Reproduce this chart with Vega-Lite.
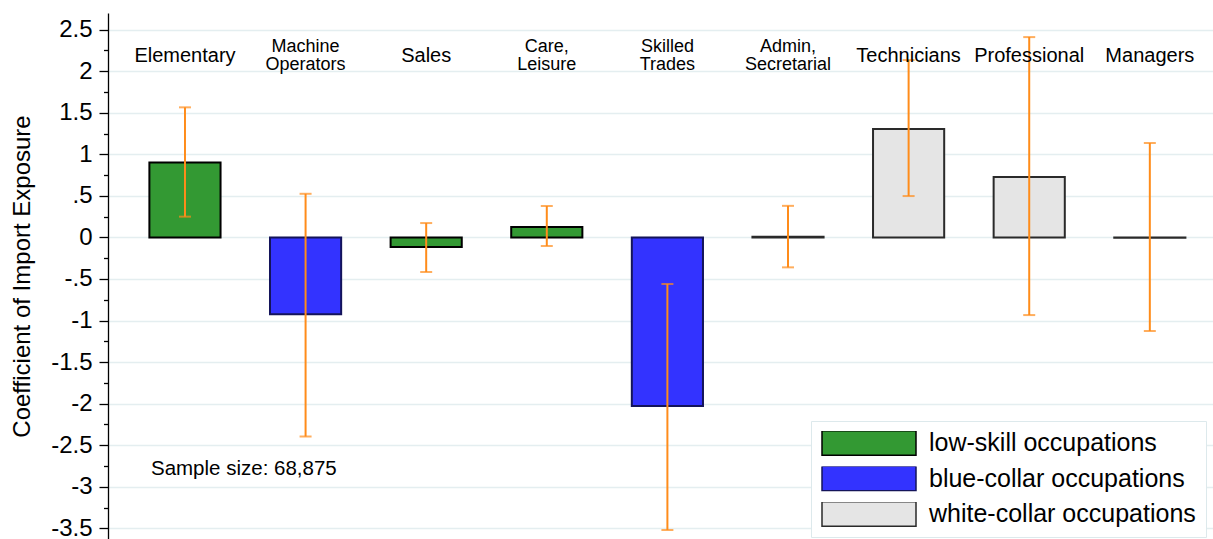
{
  "$schema": "https://vega.github.io/schema/vega-lite/v6.json",
  "autosize": {"type": "none"},
  "padding": {"left": 108, "top": 13, "right": 0, "bottom": 0},
  "width": 1105,
  "height": 526,
  "background": "white",
  "config": {"view": {"stroke": null}, "font": "Liberation Sans"},
  "data": {
    "values": [
      {"occ": "Elementary", "label": "Elementary", "group": "low-skill occupations", "coef": 0.90, "lo": 0.25, "hi": 1.565},
      {"occ": "Machine Operators", "label": "Machine\nOperators", "group": "blue-collar occupations", "coef": -0.925, "lo": -2.395, "hi": 0.525},
      {"occ": "Sales", "label": "Sales", "group": "low-skill occupations", "coef": -0.115, "lo": -0.416, "hi": 0.173},
      {"occ": "Care, Leisure", "label": "Care,\nLeisure", "group": "low-skill occupations", "coef": 0.125, "lo": -0.103, "hi": 0.378},
      {"occ": "Skilled Trades", "label": "Skilled\nTrades", "group": "blue-collar occupations", "coef": -2.028, "lo": -3.52, "hi": -0.56},
      {"occ": "Admin, Secretarial", "label": "Admin,\nSecretarial", "group": "white-collar occupations", "coef": 0.008, "lo": -0.36, "hi": 0.38},
      {"occ": "Technicians", "label": "Technicians", "group": "white-collar occupations", "coef": 1.304, "lo": 0.498, "hi": 2.134},
      {"occ": "Professional", "label": "Professional", "group": "white-collar occupations", "coef": 0.727, "lo": -0.934, "hi": 2.41},
      {"occ": "Managers", "label": "Managers", "group": "white-collar occupations", "coef": -0.005, "lo": -1.126, "hi": 1.136}
    ]
  },
  "resolve": {"axis": {"y": "independent"}},
  "layer": [
    {
      "mark": {"type": "bar", "strokeWidth": 2},
      "encoding": {
        "x": {"field": "occ", "type": "nominal", "sort": null, "axis": null,
              "scale": {"paddingInner": 0.41, "paddingOuter": 0.286, "align": 0.6}},
        "y": {"field": "coef", "type": "quantitative",
              "scale": {"domain": [-3.628, 2.7], "nice": false, "zero": false},
              "axis": {"orient": "left", "values": [-3.5, -3, -2.5, -2, -1.5, -1, -0.5, 0, 0.5, 1, 1.5, 2, 2.5],
                       "labelExpr": "replace(datum.value + '', '0.', '.')",
                       "labelFontSize": 24, "labelColor": "black", "labelPadding": 7,
                       "tickSize": 9, "tickColor": "black", "tickWidth": 1.3,
                       "domainColor": "black", "domainWidth": 1.3,
                       "grid": true, "gridColor": "#e4eef0", "gridWidth": 1.5,
                       "title": "Coefficient of Import Exposure", "titleFontSize": 24,
                       "titleFontWeight": "normal", "titleColor": "black", "titlePadding": 16}},
        "y2": {"datum": 0},
        "fill": {"field": "group", "type": "nominal",
                 "scale": {"domain": ["low-skill occupations", "blue-collar occupations", "white-collar occupations"],
                           "range": ["#339933", "#3333ff", "#e5e5e5"]},
                 "legend": {"title": null, "orient": "none", "legendX": 703, "legendY": 408,
                            "symbolType": "M-1,-0.26H1V0.26H-1Z", "symbolSize": 8836,
                            "symbolStrokeWidth": 1.5, "clipHeight": 24,
                            "labelFontSize": 25, "labelColor": "black", "labelLimit": 500, "labelOffset": 12,
                            "rowPadding": 10.5, "padding": 10,
                            "strokeColor": "#dde9ec", "fillColor": "white"}},
        "stroke": {"field": "group", "type": "nominal",
                   "scale": {"domain": ["low-skill occupations", "blue-collar occupations", "white-collar occupations"],
                             "range": ["#000000", "#14145a", "#2a2a2a"]},
                   "legend": {"title": null, "orient": "none", "legendX": 703, "legendY": 408,
                            "symbolType": "M-1,-0.26H1V0.26H-1Z", "symbolSize": 8836,
                            "symbolStrokeWidth": 1.5, "clipHeight": 24,
                            "labelFontSize": 25, "labelColor": "black", "labelLimit": 500, "labelOffset": 12,
                            "rowPadding": 10.5, "padding": 10,
                            "strokeColor": "#dde9ec", "fillColor": "white"}}
      }
    },
    {
      "mark": {"type": "rule", "color": "#ff8c1a", "strokeWidth": 2},
      "encoding": {
        "x": {"field": "occ", "type": "nominal", "sort": null},
        "y": {"field": "lo", "type": "quantitative",
              "axis": {"orient": "left", "values": [-3.25, -2.75, -2.25, -1.75, -1.25, -0.75, -0.25, 0.25, 0.75, 1.25, 1.75, 2.25],
                       "labels": false, "domain": false, "grid": false, "tickSize": 4.5,
                       "tickColor": "black", "tickWidth": 1.3, "title": null}},
        "y2": {"field": "hi"}
      }
    },
    {
      "mark": {"type": "tick", "color": "#ff8c1a", "size": 12, "thickness": 2},
      "encoding": {
        "x": {"field": "occ", "type": "nominal", "sort": null},
        "y": {"field": "lo", "type": "quantitative", "axis": null}
      }
    },
    {
      "mark": {"type": "tick", "color": "#ff8c1a", "size": 12, "thickness": 2},
      "encoding": {
        "x": {"field": "occ", "type": "nominal", "sort": null},
        "y": {"field": "hi", "type": "quantitative", "axis": null}
      }
    },
    {
      "transform": [{"filter": "indexof(datum.label, '\\n') < 0"}],
      "mark": {"type": "text", "baseline": "middle", "align": "center", "fontSize": 20, "color": "black"},
      "encoding": {
        "x": {"field": "occ", "type": "nominal", "sort": null},
        "y": {"datum": 2.18, "type": "quantitative", "axis": null},
        "text": {"field": "label"}
      }
    },
    {
      "transform": [{"filter": "indexof(datum.label, '\\n') >= 0"}],
      "mark": {"type": "text", "baseline": "middle", "align": "center", "lineBreak": "\n", "lineHeight": 18, "fontSize": 18, "color": "black"},
      "encoding": {
        "x": {"field": "occ", "type": "nominal", "sort": null},
        "y": {"datum": 2.29, "type": "quantitative", "axis": null},
        "text": {"field": "label"}
      }
    },
    {
      "data": {"values": [{"note": "Sample size: 68,875"}]},
      "mark": {"type": "text", "baseline": "middle", "align": "left", "dx": -34, "fontSize": 20.5, "color": "black"},
      "encoding": {
        "x": {"datum": "Elementary", "type": "nominal"},
        "y": {"datum": -2.79, "type": "quantitative", "axis": null},
        "text": {"field": "note"}
      }
    }
  ]
}
